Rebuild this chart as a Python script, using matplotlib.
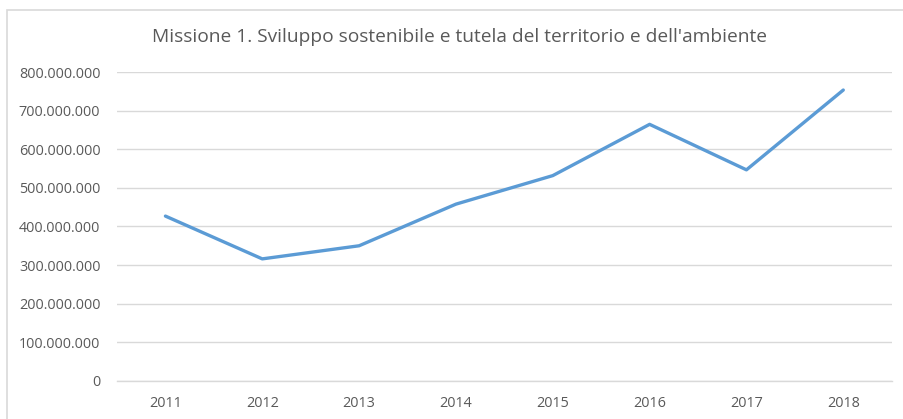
import matplotlib
matplotlib.use("Agg")
import matplotlib.pyplot as plt
from matplotlib.patches import Rectangle
from matplotlib.ticker import FuncFormatter

years = ["2011", "2012", "2013", "2014", "2015", "2016", "2017", "2018"]
values = [427e6, 316e6, 350e6, 458e6, 532e6, 665e6, 547e6, 754e6]
title = "Missione 1. Sviluppo sostenibile e tutela del territorio e dell'ambiente"

W, H = 904, 419
fig = plt.figure(figsize=(W / 100, H / 100), dpi=100)
plt.rcParams['font.family'] = ['Open Sans', 'DejaVu Sans']

# outer chart border (light grey)
fig.patches.append(Rectangle((7 / W, -0.05), 1.2, 1.05 - 10 / H,
                             transform=fig.transFigure, fill=False,
                             edgecolor="#D9D9D9", linewidth=1.2))

left, right = 117 / W, 891.7 / W
bottom, top = 1 - 380.7 / H, 1 - 72.3 / H
ax = fig.add_axes([left, bottom, right - left, top - bottom])

x = list(range(len(years)))
ax.plot(x, values, color="#5B9BD5", linewidth=2.4, solid_capstyle="round",
        solid_joinstyle="round", zorder=3)

ax.set_xlim(-0.5, len(years) - 0.5)
ax.set_ylim(0, 800e6)
ax.set_yticks([i * 100e6 for i in range(9)])
ax.yaxis.set_major_formatter(FuncFormatter(lambda v, p: f"{int(v):,}".replace(",", ".")))
ax.set_xticks(x)
ax.set_xticklabels(years)
ax.grid(axis="y", color="#D9D9D9", linewidth=1.0)
ax.set_axisbelow(True)
for s in ["top", "right", "left"]:
    ax.spines[s].set_visible(False)
ax.spines["bottom"].set_color("#D9D9D9")
ax.spines["bottom"].set_linewidth(1.0)
ax.tick_params(axis="both", length=0, colors="#595959", labelsize=10.4)
ax.tick_params(axis="y", pad=12)
ax.tick_params(axis="x", pad=11)

fig.text(460 / W, 1 - 37 / H, title, ha="center", va="center",
         fontsize=13.8, color="#595959")

fig.savefig("out.png", dpi=100)
